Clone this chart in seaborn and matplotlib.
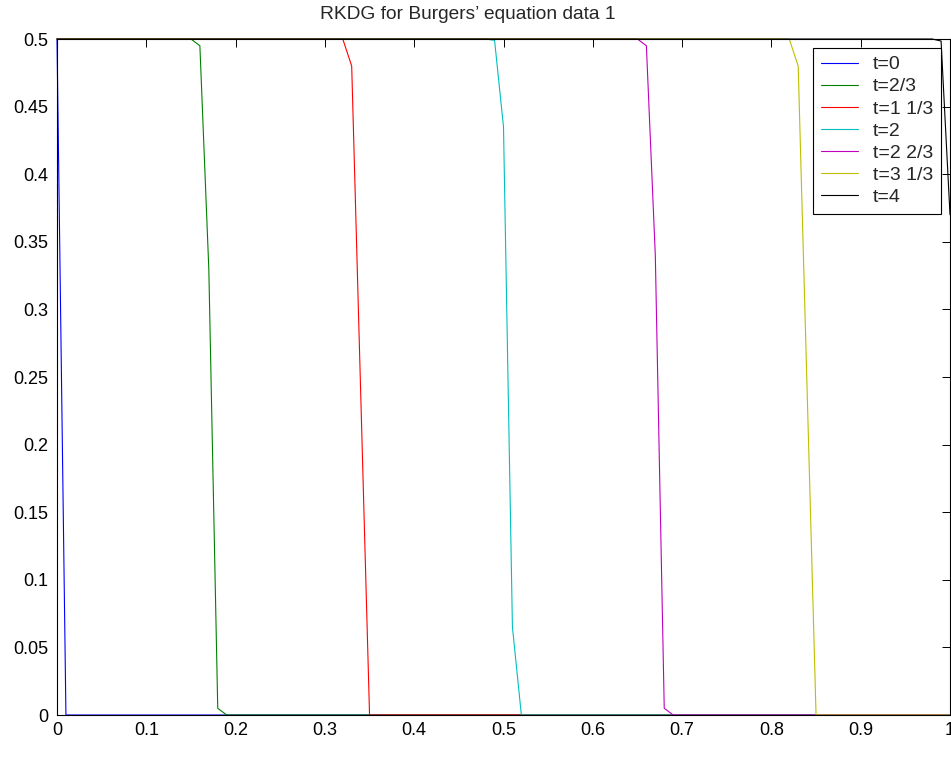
import numpy as np
import pandas as pd
import matplotlib
matplotlib.use("Agg")
import matplotlib.pyplot as plt
import seaborn as sns

# ---- data (breakpoints) ----
labels = ["t=0", "t=2/3", "t=1 1/3", "t=2", "t=2 2/3", "t=3 1/3", "t=4"]
colors = ["#0000ff", "#008000", "#ff0000", "#00bfbf", "#bf00bf", "#bfbf00", "#000000"]

x_t0 = [0.0, 0.01, 1.0]
y_t0 = [0.5, 0.0, 0.0]

x_t1 = [0.0, 0.15, 0.16, 0.17, 0.18, 0.19, 1.0]
y_t1 = [0.5, 0.5, 0.495, 0.33, 0.005, 0.0, 0.0]

x_t2 = [0.0, 0.32, 0.33, 0.34, 0.35, 1.0]
y_t2 = [0.5, 0.5, 0.48, 0.24, 0.0, 0.0]

x_t3 = [0.0, 0.48, 0.49, 0.50, 0.51, 0.52, 1.0]
y_t3 = [0.5, 0.5, 0.499, 0.435, 0.065, 0.0, 0.0]

x_t4 = [0.0, 0.65, 0.66, 0.67, 0.68, 0.69, 1.0]
y_t4 = [0.5, 0.5, 0.495, 0.34, 0.005, 0.0, 0.0]

x_t5 = [0.0, 0.82, 0.83, 0.84, 0.85, 1.0]
y_t5 = [0.5, 0.5, 0.48, 0.24, 0.0, 0.0]

x_t6 = [0.0, 0.98, 0.99, 1.0]
y_t6 = [0.5, 0.5, 0.4985, 0.37]

xs = [x_t0, x_t1, x_t2, x_t3, x_t4, x_t5, x_t6]
ys = [y_t0, y_t1, y_t2, y_t3, y_t4, y_t5, y_t6]

xticks = [0, 0.1, 0.2, 0.3, 0.4, 0.5, 0.6, 0.7, 0.8, 0.9, 1.0]
xticklabels = ["0", "0.1", "0.2", "0.3", "0.4", "0.5", "0.6", "0.7", "0.8", "0.9", "1"]
yticks = [0, 0.05, 0.1, 0.15, 0.2, 0.25, 0.3, 0.35, 0.4, 0.45, 0.5]
yticklabels = ["0", "0.05", "0.1", "0.15", "0.2", "0.25", "0.3", "0.35", "0.4", "0.45", "0.5"]

title = "RKDG for Burgers\u2019 equation data 1"

# ---- styling ----
sns.set_style("white")
plt.rcParams["font.family"] = ["Liberation Sans", "DejaVu Sans"]
plt.rcParams["font.size"] = 13

fig = plt.figure(figsize=(9.51, 7.72), dpi=100)
ax = fig.add_axes([57 / 951, 57 / 772, 893 / 951, 676 / 772])

for x, y, lab, col in zip(xs, ys, labels, colors):
    df = pd.DataFrame({"x": x, "y": y})
    sns.lineplot(data=df, x="x", y="y", ax=ax, color=col, label=lab,
                 estimator=None, sort=False, linewidth=0.8, clip_on=False)

ax.set_xlim(0, 1)
ax.set_ylim(0, 0.5)
ax.set_xticks(xticks)
ax.set_xticklabels(xticklabels)
ax.set_yticks(yticks)
ax.set_yticklabels(yticklabels)
ax.set_xlabel("")
ax.set_ylabel("")
ax.tick_params(direction="in", length=6, width=0.7, top=True, right=True,
               labelsize=13, color="black", labelcolor="black")
ax.tick_params(axis="y", pad=6)
ax.tick_params(axis="x", pad=5)
for s in ax.spines.values():
    s.set_visible(True)
    s.set_color("black")
    s.set_linewidth(0.8)

ax.set_title(title, fontsize=13.8, pad=14.5, x=(468 - 57) / 893)

leg = ax.legend(loc="upper right", fontsize=14, frameon=True, fancybox=False,
                edgecolor="black", framealpha=1, borderaxespad=0.46,
                handlelength=1.95, labelspacing=0.23, borderpad=0.4,
                handletextpad=0.75)
leg.get_frame().set_linewidth(0.8)

fig.savefig("out.png", dpi=100)
